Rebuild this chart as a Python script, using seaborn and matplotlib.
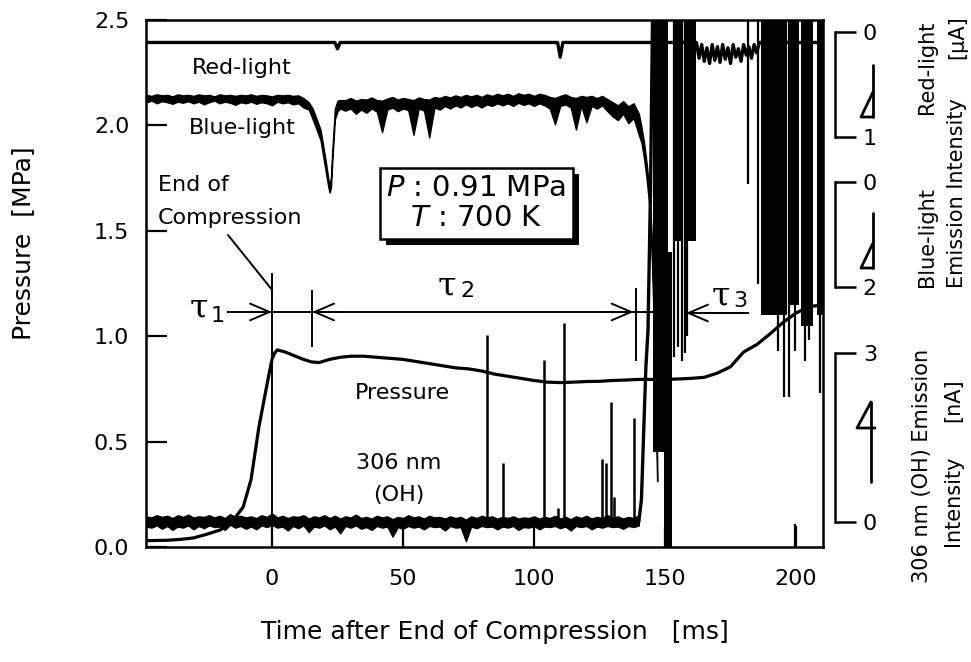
import numpy as np
import matplotlib
matplotlib.use("Agg")
import matplotlib.pyplot as plt
import seaborn as sns
from matplotlib import transforms
from matplotlib.lines import Line2D
from matplotlib.patches import Rectangle

# ---------------- data ----------------
# Pressure trace [MPa] (left axis)
pressure_t = [-48, -40, -35, -30, -25, -20, -17, -14, -11, -8,
              -5, -3, -1, 0, 1, 2, 5, 8, 12, 15,
              18, 22, 26, 30, 35, 40, 45, 50, 55, 60,
              65, 70, 75, 80, 85, 90, 95, 100, 105, 110,
              115, 120, 125, 130, 135, 140, 145, 150, 155, 160,
              165, 170, 175, 180, 185, 190, 195, 200, 205, 211]
pressure_v = [0.030, 0.032, 0.036, 0.043, 0.060, 0.080, 0.100, 0.140, 0.190, 0.320,
              0.570, 0.700, 0.830, 0.890, 0.920, 0.935, 0.925, 0.910, 0.890, 0.878,
              0.875, 0.890, 0.900, 0.905, 0.905, 0.900, 0.895, 0.890, 0.880, 0.870,
              0.860, 0.850, 0.845, 0.835, 0.820, 0.810, 0.800, 0.790, 0.782, 0.780,
              0.782, 0.785, 0.786, 0.790, 0.792, 0.795, 0.795, 0.795, 0.797, 0.800,
              0.805, 0.825, 0.855, 0.925, 0.960, 1.010, 1.065, 1.110, 1.140, 1.150]

# Blue-light emission intensity, noisy band (upper / lower edge), bracket scale 0..2 downward
blue_t = (list(range(-48, 13, 2))
          + [14, 15.5, 17, 18.5, 19.5, 20.5, 21.5, 22, 22.5, 23, 23.5, 24, 25, 26]
          + list(range(28, 141, 2))
          + [141, 142, 143, 144, 145, 146, 147])
blue_up = ([-1.66, -1.64, -1.67, -1.65, -1.66, -1.63, -1.67, -1.65, -1.66, -1.64,
            -1.67, -1.65, -1.66, -1.63, -1.67, -1.65, -1.66, -1.64, -1.66, -1.65,
            -1.67, -1.64, -1.66, -1.65, -1.63, -1.66, -1.65, -1.66, -1.64, -1.65,
            -1.60]
           + [-1.52, -1.40, -1.20, -1.00, -0.70, -0.40, -0.05, 0.05, -0.10, -0.60,
              -1.00, -1.40, -1.55, -1.56]
           + [-1.56, -1.60, -1.55, -1.58, -1.57, -1.61, -1.56, -1.55, -1.59, -1.62,
              -1.57, -1.60, -1.58, -1.56, -1.61, -1.58, -1.57, -1.62, -1.60, -1.64,
              -1.61, -1.65, -1.62, -1.66, -1.63, -1.66, -1.62, -1.67, -1.64, -1.68,
              -1.65, -1.68, -1.64, -1.69, -1.66, -1.68, -1.64, -1.68, -1.66, -1.62,
              -1.60, -1.64, -1.67, -1.62, -1.60, -1.64, -1.62, -1.64, -1.60, -1.64,
              -1.58, -1.52, -1.46, -1.54, -1.44, -1.50, -1.30]
           + [-1.05, -0.75, -0.35, 0.15, 1.10, 2.80, 5.30])
blue_dn = ([-1.52, -1.55, -1.50, -1.54, -1.52, -1.49, -1.53, -1.51, -1.54, -1.50,
            -1.53, -1.48, -1.52, -1.55, -1.50, -1.53, -1.51, -1.47, -1.52, -1.50,
            -1.53, -1.49, -1.52, -1.50, -1.46, -1.53, -1.50, -1.52, -1.48, -1.50,
            -1.42]
           + [-1.38, -1.20, -1.00, -0.80, -0.50, -0.20, 0.10, 0.20, 0.10, -0.40,
              -0.80, -1.20, -1.35, -1.40]
           + [-1.36, -1.40, -1.30, -1.38, -1.32, -1.40, -1.34, -0.95, -1.38, -1.42,
              -1.35, -1.40, -1.37, -0.90, -1.40, -1.36, -0.85, -1.42, -1.38, -1.45,
              -1.40, -1.46, -1.42, -1.48, -1.43, -1.47, -1.42, -1.48, -1.45, -1.50,
              -1.46, -1.50, -1.45, -1.51, -1.47, -1.50, -1.45, -1.50, -1.46, -1.40,
              -1.10, -1.45, -1.48, -1.42, -1.00, -1.45, -1.14, -1.45, -1.40, -1.46,
              -1.35, -1.25, -1.18, -1.30, -1.12, -1.22, -0.90]
           + [-0.75, -0.45, -0.05, 0.45, 1.50, 3.20, 5.70])

# Red-light intensity [uA] (bracket scale 0..1 downward)
red_t = ([-48, 24, 25, 26, 109, 110, 111, 162]
         + list(range(163, 186))
         + [186, 211])
red_v = ([0.10, 0.10, 0.16, 0.10, 0.10, 0.24, 0.10, 0.10]
         + [0.25, 0.12, 0.28, 0.15, 0.30, 0.12, 0.27, 0.14, 0.29, 0.12,
            0.26, 0.15, 0.30, 0.12, 0.24, 0.16, 0.28, 0.12, 0.22, 0.14,
            0.25, 0.12, 0.20]
         + [0.10, 0.10])

# 306 nm (OH) emission intensity [nA], noisy band edges (bracket scale 0..3 upward)
oh_t = list(range(-48, 141, 2))
oh_hi = [0.10, 0.08, 0.12, 0.09, 0.11, 0.07, 0.12, 0.09, 0.13, 0.08,
         0.10, 0.09, 0.12, 0.08, 0.11, 0.07, 0.14, 0.09, 0.11, 0.08,
         0.10, 0.07, 0.12, 0.09, 0.15, 0.08, 0.11, 0.07, 0.10, 0.09,
         0.12, 0.06, 0.10, 0.08, 0.12, 0.07, 0.11, 0.06, 0.10, 0.08,
         0.13, 0.07, 0.09, 0.06, 0.11, 0.08, 0.10, 0.05, 0.09, 0.07,
         0.12, 0.08, 0.10, 0.06, 0.11, 0.08, 0.09, 0.06, 0.10, 0.07,
         0.09, 0.04, 0.10, 0.07, 0.11, 0.08, 0.10, 0.06, 0.09, 0.07,
         0.10, 0.06, 0.08, 0.07, 0.10, 0.06, 0.09, 0.07, 0.11, 0.06,
         0.09, 0.05, 0.10, 0.07, 0.11, 0.06, 0.09, 0.07, 0.12, 0.07,
         0.10, 0.06, 0.09, 0.07, 0.12]
oh_lo = [-0.08, -0.10, -0.06, -0.12, -0.07, -0.14, -0.08, -0.10, -0.06, -0.13,
         -0.07, -0.11, -0.06, -0.09, -0.08, -0.14, -0.05, -0.10, -0.07, -0.12,
         -0.08, -0.13, -0.06, -0.09, -0.05, -0.10, -0.08, -0.15, -0.07, -0.11,
         -0.06, -0.18, -0.08, -0.10, -0.06, -0.13, -0.08, -0.20, -0.07, -0.10,
         -0.06, -0.12, -0.09, -0.14, -0.07, -0.10, -0.08, -0.26, -0.09, -0.12,
         -0.07, -0.10, -0.08, -0.13, -0.07, -0.09, -0.08, -0.15, -0.07, -0.10,
         -0.09, -0.34, -0.08, -0.11, -0.07, -0.09, -0.08, -0.13, -0.08, -0.10,
         -0.07, -0.14, -0.09, -0.10, -0.07, -0.13, -0.08, -0.09, -0.07, -0.11,
         -0.08, -0.15, -0.07, -0.09, -0.07, -0.13, -0.08, -0.10, -0.07, -0.09,
         -0.08, -0.12, -0.07, -0.09, -0.06]
oh_rise_t = [140, 141, 142, 142.7, 143.5, 144.5, 145.5]
oh_rise_v = [0.00, 0.40, 1.80, 2.75, 3.40, 6.00, 10.0]
oh_spike_t = [82, 88, 104, 109, 111.5, 126, 127.5, 129.5, 130.5, 138]
oh_spike_v = [3.32, 1.05, 2.88, 0.25, 3.53, 1.12, 1.05, 2.13, 0.45, 1.85]

# Saturated (off-scale) bursts after ignition, in pressure-axis units
burst_t0 = [145.5, 151.0, 149.5, 153.0, 157.6, 186.5, 197.5, 202.0, 208.0]
burst_t1 = [151.0, 152.8, 152.8, 157.0, 162.0, 196.5, 201.0, 206.5, 210.6]
burst_lo = [0.45, 0.45, 0.00, 1.45, 1.45, 1.10, 1.15, 1.05, 1.10]
burst_hi = [2.50, 1.40, 0.45, 2.50, 2.50, 2.50, 2.50, 2.50, 2.50]
streak_t = [153.5, 155.0, 156.3, 157.5, 158.5, 181.5, 185.3, 193.0, 195.5,
            197.2, 199.5, 203.3, 205.0, 209.3, 199.8]
streak_lo = [0.90, 0.95, 0.88, 0.92, 1.00, 1.72, 1.25, 0.93, 0.71,
             0.71, 0.93, 0.88, 0.98, 0.73, 0.00]
streak_hi = [2.5, 2.5, 2.5, 2.5, 2.5, 2.5, 2.5, 2.5, 2.5,
             2.5, 2.5, 2.5, 2.5, 2.5, 0.11]

x_ticks = [0, 50, 100, 150, 200]
y_ticks = [0.0, 0.5, 1.0, 1.5, 2.0, 2.5]

# ---------------- figure ----------------
sns.set_theme(style="ticks")
plt.rcParams['font.family'] = ['DejaVu Sans']
plt.rcParams['mathtext.fontset'] = 'dejavusans'
for k in ['text.color', 'axes.labelcolor', 'xtick.color', 'ytick.color', 'axes.edgecolor']:
    plt.rcParams[k] = 'black'

W, H = 971, 662
fig = plt.figure(figsize=(W / 100, H / 100), dpi=100)
L, R, B, T = 146, 823, 547, 20
XL = (-48.1, 210.3)
ax = fig.add_axes([L / W, 1 - B / H, (R - L) / W, (B - T) / H])
ax.set_facecolor('white')

sns.lineplot(x=pressure_t, y=pressure_v, ax=ax, color='black', lw=2.3,
             legend=False, zorder=4)

ax.bar(burst_t0, np.subtract(burst_hi, burst_lo), bottom=burst_lo,
       width=np.subtract(burst_t1, burst_t0), align='edge', color='black',
       lw=0, zorder=3)
ax.vlines(streak_t, streak_lo, streak_hi, color='black', lw=1.6, zorder=3)

ax.set_xlim(*XL)
ax.set_ylim(0, 2.5)
ax.set_xticks(x_ticks)
ax.set_xticklabels([str(v) for v in x_ticks])
ax.set_yticks(y_ticks)
ax.set_yticklabels([f"{v:.1f}" for v in y_ticks])
ax.tick_params(axis='both', direction='in', length=15, width=1.6,
               labelsize=16, colors='black')
ax.tick_params(axis='x', pad=16)
ax.tick_params(axis='y', pad=12)
for s in ax.spines.values():
    s.set_linewidth(1.8)
    s.set_color('black')
ax.set_xlabel('')
ax.set_ylabel('')


def bracket_axis(lims, ticks):
    a = ax.twinx()
    a.set_ylim(*lims)
    for s in ['left', 'top', 'bottom']:
        a.spines[s].set_visible(False)
    a.spines['right'].set_position(('axes', (835 - L) / (R - L)))
    a.spines['right'].set_bounds(min(ticks), max(ticks))
    a.spines['right'].set_linewidth(1.8)
    a.spines['right'].set_color('black')
    a.set_yticks(ticks)
    a.set_yticklabels([str(t) for t in ticks])
    a.tick_params(axis='y', direction='out', length=15, width=1.8,
                  labelsize=16, pad=5, colors='black')
    a.grid(False)
    return a


RED_LIM = (4.905, -0.114)
BLUE_LIM = (6.952, -3.086)
OH_LIM = (-0.444, 8.91)
ax_r = bracket_axis(RED_LIM, [0, 1])
ax_b = bracket_axis(BLUE_LIM, [0, 2])
ax_o = bracket_axis(OH_LIM, [0, 3])

sns.lineplot(x=red_t, y=red_v, ax=ax_r, color='black', lw=2.4, legend=False)
ax_b.fill_between(blue_t, blue_up, blue_dn, color='black', lw=1.0)
ax_o.fill_between(oh_t, oh_lo, oh_hi, color='black', lw=1.0)
sns.lineplot(x=oh_rise_t, y=oh_rise_v, ax=ax_o, color='black', lw=2.4, legend=False)
ax_o.vlines(oh_spike_t, 0, oh_spike_v, color='black', lw=1.8)
for a, lim in [(ax_r, RED_LIM), (ax_b, BLUE_LIM), (ax_o, OH_LIM)]:
    a.set_ylim(*lim)
    a.set_xlim(*XL)
    a.set_xlabel('')
    a.set_ylabel('')

# ---------------- annotations ----------------
alw = 1.4
ax.vlines([0, 15.3, 139], [0, 0.95, 0.88], [1.30, 1.22, 1.23], color='black', lw=alw, zorder=5)
ax.hlines(1.115, -17, 146, color='black', lw=alw, zorder=5)
ax.hlines(1.11, 158, 182, color='black', lw=alw, zorder=5)
ax.plot([-16.8, 0], [1.48, 1.22], color='black', lw=alw, zorder=5)
aprops = dict(arrowstyle='->,head_length=0.7,head_width=0.3', lw=alw,
              color='black', shrinkA=0, shrinkB=0, mutation_scale=20)
for xy, xt in [((0, 1.115), (-8, 1.115)), ((15.3, 1.115), (25, 1.115)),
               ((138, 1.115), (128, 1.115)), ((158, 1.11), (168, 1.11))]:
    ax.annotate('', xy=xy, xytext=xt, arrowprops=aprops, zorder=6)

for tx, ty, dx, dy, d in [(-31.5, 1.09, -23.3, 1.066, '1'),
                          (63.2, 1.194, 71.8, 1.185, '2'),
                          (167.8, 1.147, 176.2, 1.137, '3')]:
    ax.text(tx, ty, 'τ', family='DejaVu Serif', fontsize=24, ha='left', va='baseline')
    ax.text(dx, dy, d, fontsize=16, ha='left', va='baseline')

ax.text(-11.6, 2.27, 'Red-light', ha='center', va='center', fontsize=16)
ax.text(-11.5, 1.99, 'Blue-light', ha='center', va='center', fontsize=16)
ax.text(-43.5, 1.716, 'End of', ha='left', va='center', fontsize=16)
ax.text(-43.5, 1.56, 'Compression', ha='left', va='center', fontsize=16)
ax.text(49.6, 0.73, 'Pressure', ha='center', va='center', fontsize=16)
ax.text(48.5, 0.40, '306 nm', ha='center', va='center', fontsize=16)
ax.text(48.5, 0.245, '(OH)', ha='center', va='center', fontsize=16)

box_txt = "$P$ : 0.91 MPa\n$T$ : 700 K"
info = ax.text(77.9, 1.63, box_txt, ha='center', va='center', multialignment='center',
               fontsize=21, linespacing=1.1, color='black',
               bbox=dict(boxstyle='square,pad=0.22', fc='white', ec='black', lw=1.8),
               zorder=8)
fig.canvas.draw()
bb = info.get_bbox_patch().get_window_extent()
ax.add_patch(Rectangle((bb.x0 + 6, bb.y0 - 6), bb.width, bb.height,
                       transform=transforms.IdentityTransform(),
                       fc='black', ec='black', lw=0, zorder=7))


def fig_line(pts, lw=2.0):
    xs = [p[0] / W for p in pts]
    ys = [1 - p[1] / H for p in pts]
    fig.add_artist(Line2D(xs, ys, color='black', lw=lw))


# scale-direction marks inside the brackets
fig_line([(873, 65), (873, 117)])
fig_line([(873, 92), (861, 117), (873, 117)])
fig_line([(873, 213), (873, 268)])
fig_line([(873, 243), (861, 268), (873, 268)])
fig_line([(871, 402), (871, 482)])
fig_line([(871, 402), (857, 428), (875, 428)])

# right-side axis titles
for txt, x, y in [('Red-light', 927, 67), ('[μA]', 957, 37),
                  ('Emission Intensity', 957, 193), ('Blue-light', 927, 237),
                  ('306 nm (OH) Emission', 922, 466), ('[nA]', 953, 400),
                  ('Intensity', 953, 501)]:
    fig.text(x / W, 1 - y / H, txt, rotation=90, ha='center', va='center', fontsize=15)

fig.text(23 / W, 1 - 243 / H, 'Pressure  [MPa]', rotation=90, ha='center',
         va='center', fontsize=18)
fig.text(495 / W, 1 - 632 / H, 'Time after End of Compression   [ms]',
         ha='center', va='center', fontsize=18)

fig.savefig('out.png', dpi=100, facecolor='white')
